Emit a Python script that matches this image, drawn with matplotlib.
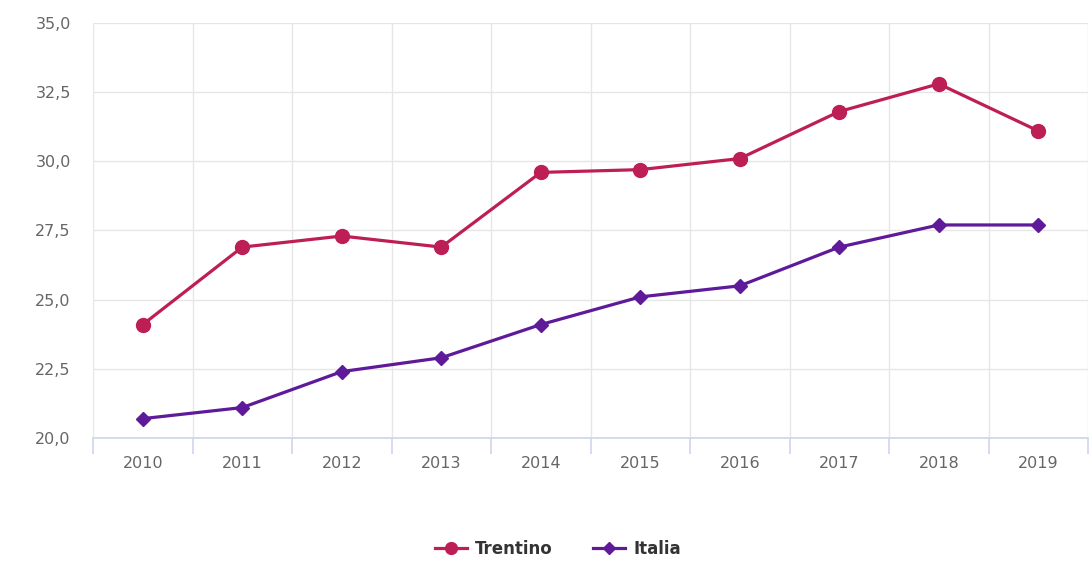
import matplotlib
matplotlib.use('Agg')
import matplotlib.pyplot as plt
from matplotlib.ticker import FuncFormatter, FixedLocator

# data
years = ['2010', '2011', '2012', '2013', '2014', '2015', '2016', '2017', '2018', '2019']
trentino = [24.1, 26.9, 27.3, 26.9, 29.6, 29.7, 30.1, 31.8, 32.8, 31.1]
italia = [20.7, 21.1, 22.4, 22.9, 24.1, 25.1, 25.5, 26.9, 27.7, 27.7]

plt.rcParams['font.family'] = ['DejaVu Sans']

fig = plt.figure(figsize=(10.9, 5.63), dpi=100)
ax = fig.add_axes([93/1090, 1-438/563, (1088-93)/1090, (438-23)/563])

x = list(range(len(years)))
ax.plot(x, trentino, color='#be1e56', lw=2.3, marker='o', ms=10, label='Trentino', zorder=3)
ax.plot(x, italia, color='#5e1a99', lw=2.3, marker='D', ms=7, label='Italia', zorder=3)

ax.set_xlim(-0.5, len(years)-0.5)
ax.set_ylim(20, 35)
ax.set_yticks([20, 22.5, 25, 27.5, 30, 32.5, 35])
ax.yaxis.set_major_formatter(FuncFormatter(lambda v, p: ('%.1f' % v).replace('.', ',')))
ax.set_xticks(x)
ax.set_xticklabels(years)
ax.xaxis.set_minor_locator(FixedLocator([i - 0.5 for i in range(len(years)+1)]))

ax.grid(True, which='major', axis='y', color='#e6e6e6', lw=1)
ax.grid(True, which='minor', axis='x', color='#e6e6e6', lw=1)
ax.set_axisbelow(True)

for s in ['top', 'right', 'left']:
    ax.spines[s].set_visible(False)
ax.spines['bottom'].set_color('#ccd6eb')
ax.spines['bottom'].set_linewidth(1.2)

ax.tick_params(axis='y', length=0, pad=16, labelsize=11.5, labelcolor='#666666')
ax.tick_params(axis='x', which='major', length=0, pad=13, labelsize=11.5, labelcolor='#666666')
ax.tick_params(axis='x', which='minor', length=11.5, width=1.2, color='#ccd6eb')

leg = fig.legend(loc='center', bbox_to_anchor=(558/1090, 1-549/563), ncol=2, frameon=False,
                 fontsize=12, handlelength=1.9, columnspacing=2.4, handletextpad=0.5,
                 markerscale=0.85)
for t in leg.get_texts():
    t.set_color('#333333')
    t.set_fontweight('bold')

fig.savefig('out.png', dpi=100)
